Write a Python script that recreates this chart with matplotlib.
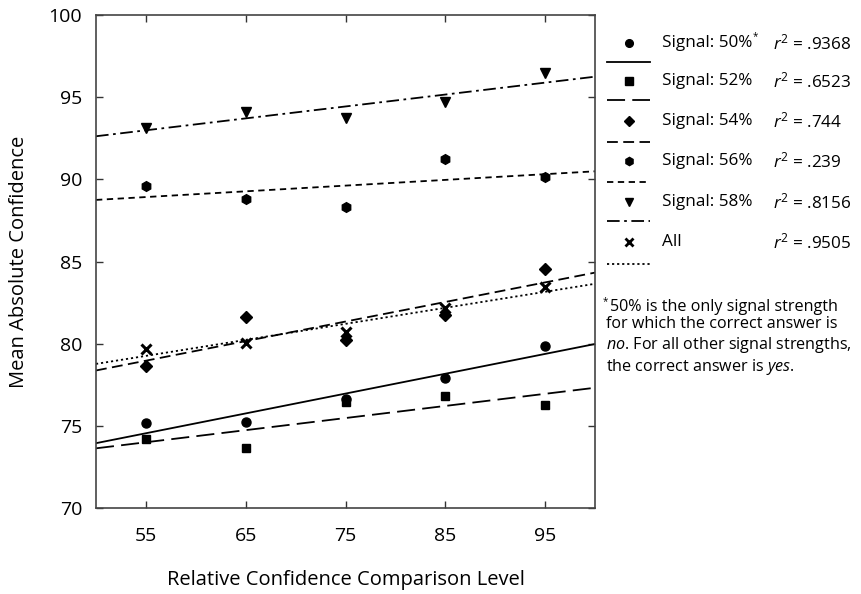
import numpy as np
import matplotlib
matplotlib.use("Agg")
import matplotlib.pyplot as plt
from matplotlib.lines import Line2D

plt.rcParams['font.family'] = ['Open Sans', 'DejaVu Sans']
plt.rcParams['mathtext.fontset'] = 'custom'
plt.rcParams['mathtext.rm'] = 'Open Sans'
plt.rcParams['mathtext.it'] = 'Open Sans:italic'

# data
levels = [55, 65, 75, 85, 95]
sig50 = [75.15, 75.25, 76.65, 77.9, 79.86]
sig52 = [74.18, 73.63, 76.47, 76.82, 76.27]
sig54 = [78.64, 81.6, 80.22, 81.75, 84.52]
sig56 = [89.6, 88.8, 88.34, 91.22, 90.13]
sig58 = [93.15, 94.08, 93.76, 94.73, 96.45]
all_sig = [79.66, 80.02, 80.73, 82.15, 83.47]

labels = ["Signal: 50%", "Signal: 52%", "Signal: 54%", "Signal: 56%", "Signal: 58%", "All"]
r2_text = [".9368", ".6523", ".744", ".239", ".8156", ".9505"]

series = [sig50, sig52, sig54, sig56, sig58, all_sig]
markers = ['o', 's', 'D', 'h', 'v', 'x']
msizes = [6.5, 6, 6, 7, 7.5, 7]
dashes = [None, (10, 4), (6, 3), (3.5, 2.5), (7, 2.5, 1.5, 2.5), (1.2, 1.6)]

fig = plt.figure(figsize=(8.62, 5.94), dpi=100)
ax = fig.add_axes([96/862, 1 - 508/594, 499/862, 493/594])

xfit = np.array([50, 100])
for ys, m, ms, d in zip(series, markers, msizes, dashes):
    k, b = np.polyfit(levels, ys, 1)
    ln, = ax.plot(xfit, k*xfit + b, color='black', lw=1.3)
    if d is not None:
        ln.set_dashes(d)
    ax.plot(levels, ys, linestyle='none', marker=m, ms=ms, color='black',
            mew=2.2 if m == 'x' else 1)

ax.set_xlim(50, 100)
ax.set_ylim(70, 100)
ax.set_xticks(levels)
ax.set_yticks([70, 75, 80, 85, 90, 95, 100])
ax.tick_params(direction='in', top=True, right=True, length=5, width=1,
               labelsize=14, pad=10, colors='#333333', labelcolor='black')
ax.tick_params(axis='x', pad=14)
for s in ax.spines.values():
    s.set_color('#444444')
    s.set_linewidth(1.2)
ax.set_xlabel("Relative Confidence Comparison Level", fontsize=14.5, labelpad=18)
ax.set_ylabel("Mean Absolute Confidence", fontsize=14.5, labelpad=14)

# legend drawn by hand: marker on top, line sample below
lax = fig.add_axes([0, 0, 1, 1])
lax.set_xlim(0, 862)
lax.set_ylim(594, 0)
lax.axis('off')
row_y = [43, 81, 121, 161, 202, 242]
line_y = [62, 100, 142, 182, 221, 264]
for i in range(6):
    lax.add_line(Line2D([629], [row_y[i]], marker=markers[i], ms=msizes[i]*0.85,
                        color='black', linestyle='none',
                        mew=2.0 if markers[i] == 'x' else 1))
    ln = Line2D([607, 650], [line_y[i], line_y[i]], color='black', lw=1.3)
    if dashes[i] is not None:
        ln.set_dashes(dashes[i])
    lax.add_line(ln)
    lax.text(662, row_y[i], labels[i], fontsize=12.3, va='center', ha='left')
    lax.text(773, row_y[i], r"$\it{r}^2$ = " + r2_text[i], fontsize=12.3,
             va='center', ha='left')
# small footnote mark on the 50% label
lax.text(753, row_y[0] - 6, "*", fontsize=7, va='center', ha='left')

# footnote
lax.text(603, 302, "*", fontsize=7, va='center', ha='left')
lax.text(610, 307, "50% is the only signal strength", fontsize=11.6,
         va='center', ha='left')
note = ("for which the correct answer is\n"
        r"$\it{no}$. For all other signal strengths," + "\n"
        r"the correct answer is $\it{yes}$.")
lax.text(606, 316, note, fontsize=11.6, va='top', ha='left', linespacing=1.18)

fig.savefig("out.png", dpi=100)
